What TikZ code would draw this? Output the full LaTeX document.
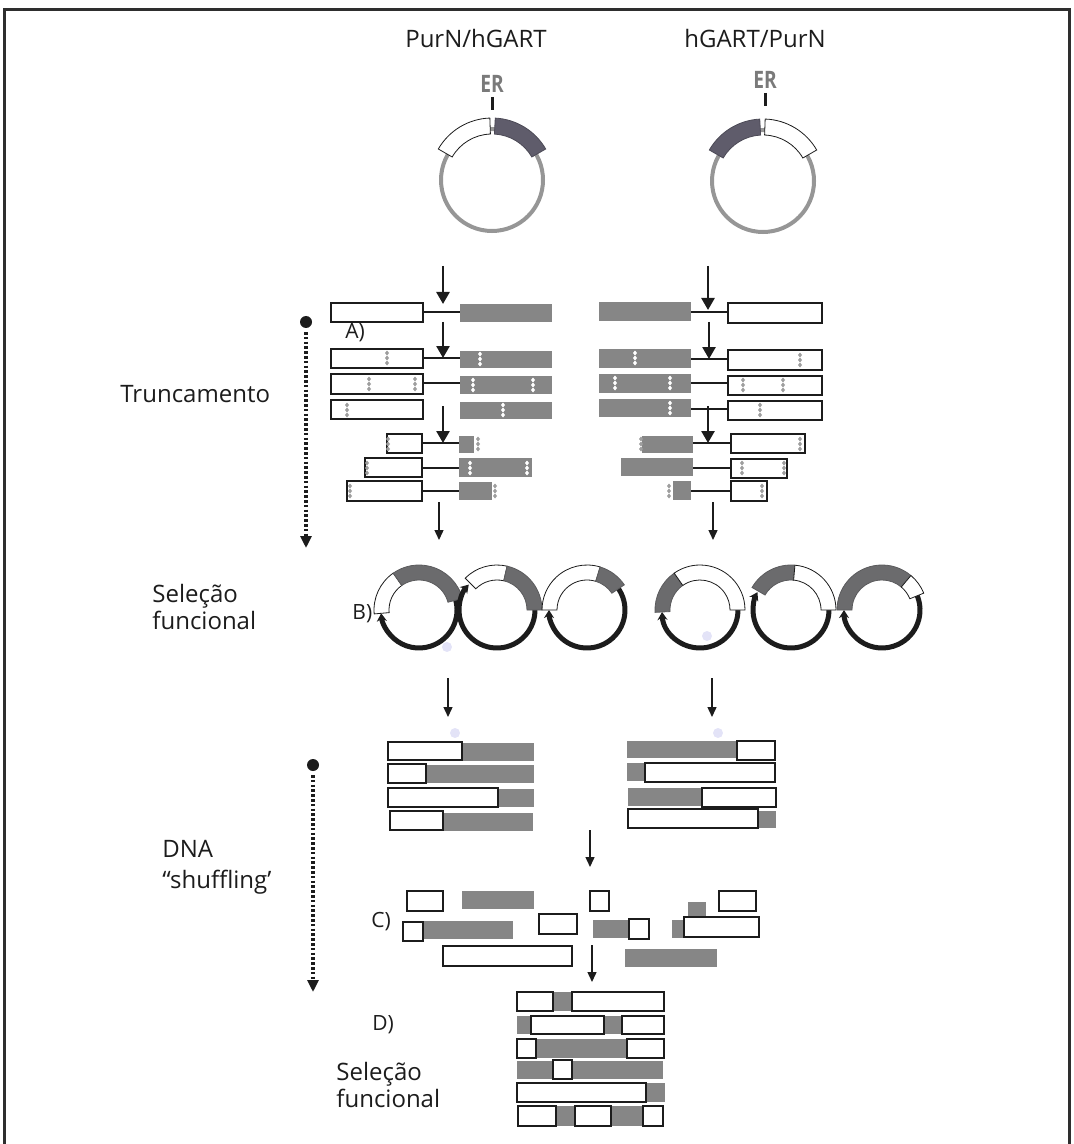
\documentclass[tikz,border=0pt]{standalone}
\usepackage{fontspec}
\setmainfont{Open Sans}
\usetikzlibrary{arrows.meta}
\definecolor{ink}{HTML}{1C1C1C}
\definecolor{frm}{HTML}{2E2E2E}
\definecolor{bar}{HTML}{868686}
\definecolor{dkseg}{HTML}{5F5C6B}
\definecolor{bseg}{HTML}{6B6B6D}
\definecolor{ringg}{HTML}{969696}
\definecolor{ergr}{HTML}{7A7A7A}
\definecolor{smudge}{HTML}{E3E3F7}
% arc band: style, start angle, end angle, inner r, outer r
\newcommand{\seg}[5]{\draw[#1] (#2:#5) arc[start angle=#2, end angle=#3, radius=#5]
  -- (#3:#4) arc[start angle=#3, end angle=#2, radius=#4] -- cycle;}
% cut mark on a fragment: style, x, y
\newcommand{\nick}[3]{\foreach \d in {-5,0,5}
  \fill[#1] ({#2-2},{#3+(\d)}) -- ({#2},{#3+(\d)-2.5}) -- ({#2+2},{#3+(\d)}) -- ({#2},{#3+(\d)+2.5}) -- cycle;}
\tikzset{
  lbl/.style    ={font=\fontsize{12}{13.5}\selectfont, text=ink, inner sep=0pt, align=left},
  tag/.style    ={font=\fontsize{10.5}{12}\selectfont, text=ink, inner sep=0pt},
  erlbl/.style  ={font=\bfseries\fontsize{12}{13}\selectfont, text=ergr, inner sep=0pt},
  frame/.style  ={draw=frm, line width=1.5pt},
  wbx/.style    ={draw=ink, line width=1.1pt, fill=white},
  gbr/.style    ={fill=bar},
  lnk/.style    ={draw=ink, line width=0.9pt},
  tick/.style   ={draw=ink, line width=1.5pt},
  ringt/.style  ={draw=ringg, line width=2pt},
  ringb/.style  ={draw=ink, line width=2.5pt, -{Stealth[length=4pt,width=5pt]}},
  wseg/.style   ={draw=ink, line width=0.4pt, fill=white},
  dseg/.style   ={draw=dkseg!80!black, line width=0.4pt, fill=dkseg},
  gseg/.style   ={draw=bseg!85!black, line width=0.4pt, fill=bseg},
  nkw/.style    ={fill=white},
  nkg/.style    ={fill=bar!80},
  bigarr/.style ={-{Triangle[length=6pt,width=6.5pt]}, line width=1.3pt, draw=ink},
  thinarr/.style={-{Triangle[length=5pt,width=4.5pt]}, line width=0.7pt, draw=ink},
  dotarr/.style ={-{Triangle[length=6pt,width=5.5pt]}, line width=2.3pt,
                  dash pattern=on 1.3pt off 1.1pt, draw=ink},
}
\begin{document}
\begin{tikzpicture}[x=0.5pt, y=-0.5pt]
  \useasboundingbox (0,0) rectangle (1073,1144);
  \draw[frame] (4,1144) -- (4,10) -- (1069,10) -- (1069,1144);

  % ---- headings ----
  \node[lbl, anchor=base] (hL) at (476,48) {PurN/hGART};
  \node[lbl, anchor=base] (hR) at (755,48) {hGART/PurN};

  % ---- starting plasmids ----
  \node[erlbl] (erL) at (492,84) {\scalebox{0.8}[1]{ER}};
  \draw[tick] (erL.south) ++(0,4) -- ++(0,13);
  \begin{scope}[shift={(492,180)}, yscale=-1]
    \draw[ringt] (0,0) circle[radius=51];
    \seg{wseg}{92}{150}{46}{62}
    \seg{dseg}{30}{87}{46}{62}
  \end{scope}
  \node[erlbl] (erR) at (765,80) {\scalebox{0.8}[1]{ER}};
  \draw[tick] (erR.south) ++(0,4) -- ++(0,13);
  \begin{scope}[shift={(763,181)}, yscale=-1]
    \draw[ringt] (0,0) circle[radius=51];
    \seg{dseg}{93}{150}{46}{62}
    \seg{wseg}{30}{88}{46}{62}
  \end{scope}

  % ---- A) truncation, left column ----
  \node[tag, anchor=base west] (tA) at (345,338) {A)};
  \fill[gbr] (460,304) rectangle (552,322);
  \draw[wbx] (331,303) rectangle (423,322);
  \draw[lnk] (423,312) -- (460,312);
  \fill[gbr] (460,351) rectangle (552,368);
  \draw[wbx] (331,349) rectangle (423,368);
  \draw[lnk] (423,358) -- (460,358);
  \nick{nkg}{387}{358} \nick{nkw}{480}{359}
  \fill[gbr] (460,376) rectangle (552,394);
  \draw[wbx] (331,374) rectangle (423,394);
  \draw[lnk] (423,383) -- (460,383);
  \nick{nkg}{369}{384} \nick{nkg}{415}{384} \nick{nkw}{473}{385} \nick{nkw}{533}{385}
  \fill[gbr] (460,402) rectangle (552,419);
  \draw[wbx] (331,400) rectangle (423,419);
  \nick{nkg}{347}{410} \nick{nkw}{503}{410}
  \fill[gbr] (459,436) rectangle (474,453);
  \draw[wbx] (387,434) rectangle (422,453);
  \draw[lnk] (422,443) -- (459,443);
  \nick{nkg}{388}{444} \nick{nkg}{478}{444}
  \fill[gbr] (459,458) rectangle (532,477);
  \draw[wbx] (365,458) rectangle (422,477);
  \draw[lnk] (422,468) -- (459,468);
  \nick{nkg}{367}{468} \nick{nkw}{470}{468} \nick{nkw}{527}{468}
  \fill[gbr] (459,482) rectangle (492,500);
  \draw[wbx] (347,481) rectangle (422,501);
  \draw[lnk] (422,491) -- (459,491);
  \nick{nkg}{350}{491} \nick{nkg}{495}{491}

  % ---- A) truncation, right column ----
  \fill[gbr] (599,302) rectangle (691,321);
  \draw[wbx] (728,303) rectangle (822,323);
  \draw[lnk] (691,312) -- (728,312);
  \fill[gbr] (599,349) rectangle (691,368);
  \draw[wbx] (728,350) rectangle (822,370);
  \draw[lnk] (691,359) -- (728,359);
  \nick{nkw}{635}{358} \nick{nkg}{800}{360}
  \fill[gbr] (599,374) rectangle (691,393);
  \draw[wbx] (728,376) rectangle (822,395);
  \draw[lnk] (691,383) -- (728,383);
  \nick{nkw}{615}{383} \nick{nkw}{670}{383} \nick{nkg}{743}{385} \nick{nkg}{783}{385}
  \fill[gbr] (599,399) rectangle (691,417);
  \draw[wbx] (728,401) rectangle (822,420);
  \draw[lnk] (691,409) -- (728,409);
  \nick{nkw}{670}{408} \nick{nkg}{760}{410}
  \fill[gbr] (642,436) rectangle (693,453);
  \draw[wbx] (731,434) rectangle (805,453);
  \draw[lnk] (693,443) -- (731,443);
  \nick{nkg}{641}{444} \nick{nkg}{800}{444}
  \fill[gbr] (621,458) rectangle (693,476);
  \draw[wbx] (731,459) rectangle (787,478);
  \draw[lnk] (693,468) -- (731,468);
  \nick{nkg}{742}{468} \nick{nkg}{784}{468}
  \fill[gbr] (673,481) rectangle (691,500);
  \draw[wbx] (731,481) rectangle (767,501);
  \draw[lnk] (691,491) -- (731,491);
  \nick{nkg}{669}{491} \nick{nkg}{762}{491}

  % ---- truncation arrows ----
  \coordinate (L0) at (443,266);  \coordinate (L1) at (443,304);
  \coordinate (L2) at (443,322);  \coordinate (L3) at (443,358);
  \coordinate (L4) at (443,406);  \coordinate (L5) at (443,443);
  \coordinate (L6) at (439,502);  \coordinate (L7) at (439,540);
  \coordinate (R0) at (708,266);  \coordinate (R1) at (708,310);
  \coordinate (R2) at (709,322);  \coordinate (R3) at (709,359);
  \coordinate (R4) at (708,406);  \coordinate (R5) at (708,443);
  \coordinate (R6) at (713,502);  \coordinate (R7) at (713,540);
  \draw[bigarr] (L0) -- (L1);  \draw[bigarr] (L2) -- (L3);  \draw[bigarr] (L4) -- (L5);
  \draw[thinarr] (L6) -- (L7);
  \draw[bigarr] (R0) -- (R1);  \draw[bigarr] (R2) -- (R3);  \draw[bigarr] (R4) -- (R5);
  \draw[thinarr] (R6) -- (R7);

  % ---- side labels and dotted arrows ----
  \node[lbl, anchor=base west] (trunc) at (120,402) {Truncamento};
  \fill[ink] (306,322) circle[radius=6];
  \coordinate (d1s) at (306,332);  \coordinate (d1e) at (306,548);
  \draw[dotarr] (d1s) -- (d1e);
  \node[lbl, anchor=base west] (selB) at (152,629) {Seleção\\funcional};
  \node[lbl, anchor=base west, font=\fontsize{12}{15.5}\selectfont] (shuf) at (162,888) {DNA\\“shuffling’};
  \fill[ink] (313,765) circle[radius=6];
  \coordinate (d2s) at (313,775);  \coordinate (d2e) at (313,992);
  \draw[dotarr] (d2s) -- (d2e);

  % ---- B) functional selection ----
  \node[tag, anchor=base west] (tB) at (352,619) {B)};
  \begin{scope}[shift={(419,610)}, yscale=-1]
    \draw[ringb] (18:38) arc[start angle=18, end angle=-175, radius=38];
    \seg{wseg}{125}{185}{30}{45}
    \seg{gseg}{15}{125}{30}{45}
  \end{scope}
  \begin{scope}[shift={(497,610)}, yscale=-1]
    \draw[ringb] (3:38) arc[start angle=3, end angle=-222, radius=38];
    \seg{wseg}{77}{135}{30}{45}
    \seg{gseg}{0}{77}{30}{45}
  \end{scope}
  \begin{scope}[shift={(587,610)}, yscale=-1]
    \draw[ringb] (37:38) arc[start angle=37, end angle=-180, radius=38];
    \seg{wseg}{73}{180}{30}{45}
    \seg{gseg}{34}{73}{30}{45}
  \end{scope}
  \begin{scope}[shift={(700,610)}, yscale=-1]
    \draw[ringb] (3:38) arc[start angle=3, end angle=-177, radius=38];
    \seg{gseg}{125}{183}{30}{45}
    \seg{wseg}{0}{125}{30}{45}
  \end{scope}
  \begin{scope}[shift={(791,610)}, yscale=-1]
    \draw[ringb] (3:38) arc[start angle=3, end angle=-208, radius=38];
    \seg{gseg}{85}{150}{30}{45}
    \seg{wseg}{0}{85}{30}{45}
  \end{scope}
  \begin{scope}[shift={(882,610)}, yscale=-1]
    \draw[ringb] (25:38) arc[start angle=25, end angle=-180, radius=38];
    \seg{gseg}{50}{180}{30}{45}
    \seg{wseg}{22}{50}{30}{45}
  \end{scope}
  \fill[smudge] (447,647) circle[radius=5];
  \fill[smudge] (707,636) circle[radius=5];
  \fill[smudge] (455,733) circle[radius=5];
  \fill[smudge] (718,733) circle[radius=5];

  \coordinate (L8) at (448,678);  \coordinate (L9) at (448,717);
  \coordinate (R8) at (712,678);  \coordinate (R9) at (712,717);
  \draw[thinarr] (L8) -- (L9);  \draw[thinarr] (R8) -- (R9);

  % ---- selected chimeras ----
  \fill[gbr] (462,743) rectangle (534,761);  \draw[wbx] (388,742) rectangle (462,760);
  \fill[gbr] (426,765) rectangle (534,783);  \draw[wbx] (388,764) rectangle (426,783);
  \fill[gbr] (498,789) rectangle (534,807);  \draw[wbx] (388,788) rectangle (498,807);
  \fill[gbr] (443,813) rectangle (533,831);  \draw[wbx] (390,811) rectangle (443,830);
  \fill[gbr] (627,741) rectangle (737,758);  \draw[wbx] (737,741) rectangle (775,760);
  \fill[gbr] (627,763) rectangle (645,781);  \draw[wbx] (645,763) rectangle (775,782);
  \fill[gbr] (628,788) rectangle (702,806);  \draw[wbx] (702,788) rectangle (776,807);
  \fill[gbr] (758,811) rectangle (776,828);  \draw[wbx] (628,809) rectangle (758,828);

  \coordinate (C0) at (590,830);  \coordinate (C1) at (590,867);
  \draw[thinarr] (C0) -- (C1);

  % ---- C) fragments ----
  \node[tag, anchor=base west] (tC) at (371,927) {C)};
  \draw[wbx] (407,891) rectangle (443,911);
  \fill[gbr] (462,891) rectangle (534,909);
  \draw[wbx] (590,891) rectangle (609,911);
  \fill[gbr] (688,902) rectangle (706,917);
  \draw[wbx] (719,891) rectangle (756,911);
  \fill[gbr] (423,921) rectangle (513,939);  \draw[wbx] (403,922) rectangle (423,941);
  \draw[wbx] (539,914) rectangle (577,934);
  \fill[gbr] (593,920) rectangle (629,938);  \draw[wbx] (629,919) rectangle (649,939);
  \fill[gbr] (672,920) rectangle (684,938);  \draw[wbx] (684,917) rectangle (759,937);
  \draw[wbx] (443,946) rectangle (572,966);
  \fill[gbr] (625,949) rectangle (717,967);

  \coordinate (C2) at (592,945);  \coordinate (C3) at (592,982);
  \draw[thinarr] (C2) -- (C3);

  % ---- D) shuffled library ----
  \node[tag, anchor=base west] (tD) at (372,1030) {D)};
  \fill[gbr] (517,992) rectangle (664,1011);
  \draw[wbx] (517,992) rectangle (553,1011);  \draw[wbx] (572,992) rectangle (664,1011);
  \fill[gbr] (517,1016) rectangle (664,1034);
  \draw[wbx] (531,1016) rectangle (604,1034);  \draw[wbx] (622,1016) rectangle (664,1034);
  \fill[gbr] (517,1039) rectangle (664,1058);
  \draw[wbx] (517,1039) rectangle (536,1058);  \draw[wbx] (627,1039) rectangle (664,1058);
  \fill[gbr] (517,1061) rectangle (663,1079);
  \draw[wbx] (553,1060) rectangle (572,1079);
  \fill[gbr] (517,1083) rectangle (665,1102);
  \draw[wbx] (517,1083) rectangle (646,1102);
  \fill[gbr] (518,1106) rectangle (663,1126);
  \draw[wbx] (518,1106) rectangle (556,1126);  \draw[wbx] (575,1106) rectangle (611,1126);
  \draw[wbx] (643,1106) rectangle (663,1126);
  \node[lbl, anchor=base west] (selD) at (336,1107) {Seleção\\funcional};

\end{tikzpicture}
\end{document}
